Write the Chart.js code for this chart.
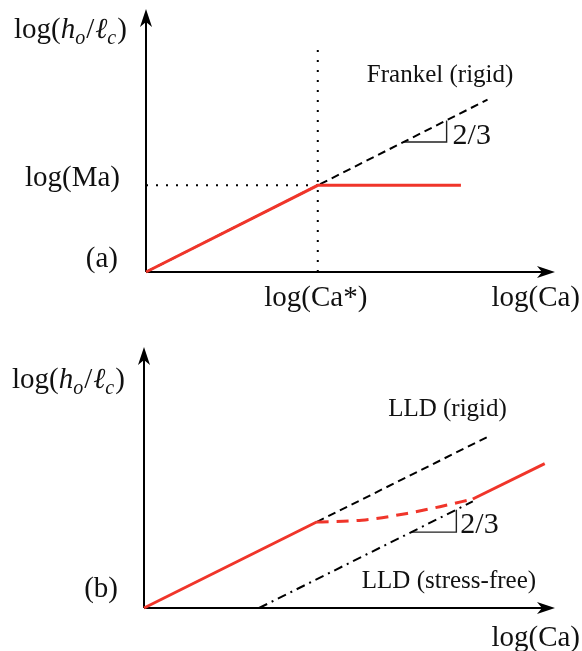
<!DOCTYPE html>
<html>
<head>
<meta charset="utf-8">
<script src="https://cdn.jsdelivr.net/npm/chart.js@4/dist/chart.umd.min.js"></script>
<style>
  html, body { margin: 0; padding: 0; background: #fff; }
  canvas { display: block; }
</style>
</head>
<body>
<canvas id="panelA" width="582" height="325"></canvas>
<canvas id="panelB" width="582" height="326"></canvas>
<script>
/* ---------- DATA (log units) ---------- */
const X_MAX = 10;
const Y_MAX = 8.5;
const caStar = 4.2;
const logMa = 2.8;

// panel (a): Frankel law and the Marangoni-limited film
const frankelX = [0, 8.35];
const frankelY = [0, 5.57];
const filmAX = [0, caStar, 7.7];
const filmAY = [0, logMa, logMa];
const caStarGuideX = [caStar, caStar];
const caStarGuideY = [0, 7.4];
const maGuideX = [0, caStar];
const maGuideY = [logMa, logMa];
const slopeAX = [6.3, 7.35, 7.35];
const slopeAY = [4.2, 4.2, 4.9];

// panel (b): LLD rigid / stress-free asymptotes and the crossover
const lldRigidX = [caStar, 8.37];
const lldRigidY = [logMa, 5.58];
const lldFreeX = [2.8, 8.0];
const lldFreeY = [0, 3.47];
const filmLowX = [0, caStar];
const filmLowY = [0, logMa];
const filmMidX = [caStar, 5.3, 6.4, 7.2, 8.0];
const filmMidY = [logMa, 2.86, 3.08, 3.3, 3.55];
const filmHighX = [8.0, 9.75];
const filmHighY = [3.55, 4.7];
const slopeBX = [6.5, 7.6, 7.6];
const slopeBY = [2.47, 2.47, 3.2];

/* ---------- STYLE ---------- */
const RED = "#f0352a";
const SERIF = '"Liberation Serif", "DejaVu Serif", serif';
const BIG = "29px " + SERIF;
const MID = "25px " + SERIF;
const SLOPE = "30px " + SERIF;

function zip(xs, ys) {
  return xs.map((x, i) => ({ x: x, y: ys[i] }));
}

function line(xs, ys, color, width, dash, extra) {
  return Object.assign({
    data: zip(xs, ys),
    showLine: true,
    borderColor: color,
    borderWidth: width,
    borderDash: dash || [],
    pointRadius: 0,
    fill: false,
    clip: false
  }, extra || {});
}

const yLabelParts = [
  { t: "log(", font: BIG },
  { t: "h", font: "italic " + BIG },
  { t: "o", font: "italic 20px " + SERIF, dy: 6 },
  { t: "/", font: BIG, dx: 1 },
  { t: "\u2113", font: "italic " + BIG, dx: 1 },
  { t: "c", font: "italic 20px " + SERIF, dy: 6 },
  { t: ")", font: BIG, dx: 1 }
];

/* ---------- AXES + TEXT ---------- */
function arrowHead(ctx, x, y, angle) {
  ctx.save();
  ctx.translate(x, y);
  ctx.rotate(angle);
  ctx.beginPath();
  ctx.moveTo(0, 0);
  ctx.lineTo(-18, -6);
  ctx.lineTo(-13, 0);
  ctx.lineTo(-18, 6);
  ctx.closePath();
  ctx.fillStyle = "#000";
  ctx.fill();
  ctx.restore();
}

const sketchPlugin = {
  id: "sketch",
  beforeDatasetsDraw(chart) {
    const ctx = chart.ctx;
    const { left, right, top, bottom } = chart.chartArea;
    ctx.save();
    ctx.strokeStyle = "#000";
    ctx.lineWidth = 2;
    ctx.beginPath();
    ctx.moveTo(left, bottom);
    ctx.lineTo(right - 12, bottom);
    ctx.moveTo(left, bottom);
    ctx.lineTo(left, top + 12);
    ctx.stroke();
    arrowHead(ctx, right, bottom, 0);
    arrowHead(ctx, left, top, -Math.PI / 2);
    ctx.restore();
  },
  afterDatasetsDraw(chart, args, opts) {
    const ctx = chart.ctx;
    const xs = chart.scales.x, ys = chart.scales.y;
    ctx.save();
    ctx.fillStyle = "#111";
    ctx.textBaseline = "alphabetic";
    (opts.labels || []).forEach(l => {
      const px = xs.getPixelForValue(l.at[0]) + (l.dx || 0);
      const py = ys.getPixelForValue(l.at[1]) + (l.dy || 0);
      if (l.parts) {
        let cx = px;
        l.parts.forEach(p => {
          ctx.font = p.font;
          ctx.textAlign = "left";
          cx += p.dx || 0;
          ctx.fillText(p.t, cx, py + (p.dy || 0));
          cx += ctx.measureText(p.t).width;
        });
        return;
      }
      ctx.font = l.font || BIG;
      ctx.textAlign = l.align || "left";
      ctx.fillText(l.text, px, py);
    });
    ctx.restore();
  }
};

function makeChart(id, datasets, pad, labels) {
  return new Chart(document.getElementById(id), {
    type: "scatter",
    data: { datasets: datasets },
    options: {
      responsive: false,
      animation: false,
      devicePixelRatio: 1,
      events: [],
      layout: { padding: pad },
      scales: {
        x: { type: "linear", min: 0, max: X_MAX, display: false },
        y: { type: "linear", min: 0, max: Y_MAX, display: false }
      },
      plugins: {
        legend: { display: false },
        tooltip: { enabled: false },
        sketch: { labels: labels }
      }
    },
    plugins: [sketchPlugin]
  });
}

/* ---------- PANEL (a) ---------- */
makeChart("panelA", [
  line(filmAX, filmAY, RED, 3),
  line(frankelX, frankelY, "#000", 2, [8, 5]),
  line(caStarGuideX, caStarGuideY, "#000", 2, [2, 8]),
  line(maGuideX, maGuideY, "#000", 2, [2, 8]),
  line(slopeAX, slopeAY, "#222", 1.4)
], { left: 146, right: 27, top: 9, bottom: 53 }, [
  { at: [0, Y_MAX], dx: -132, dy: 29, parts: yLabelParts },
  { at: [0, logMa], dx: -26, dy: 1, text: "log(Ma)", align: "right" },
  { at: [0, 0], dx: -28, dy: -5, text: "(a)", align: "right" },
  { at: [caStar, 0], dx: -2, dy: 34, text: "log(Ca*)", align: "center" },
  { at: [X_MAX, 0], dx: 25, dy: 34, text: "log(Ca)", align: "right" },
  { at: [5.4, 6.15], text: "Frankel (rigid)", font: MID },
  { at: [7.35, 4.2], dx: 6, dy: 2, text: "2/3", font: SLOPE }
]);

/* ---------- PANEL (b) ---------- */
makeChart("panelB", [
  line(filmLowX, filmLowY, RED, 3),
  line(filmMidX, filmMidY, RED, 3, [12, 8], { tension: 0.4, cubicInterpolationMode: "monotone" }),
  line(filmHighX, filmHighY, RED, 3),
  line(lldRigidX, lldRigidY, "#000", 2, [8, 5]),
  line(lldFreeX, lldFreeY, "#000", 2, [9, 5, 2, 5]),
  line(slopeBX, slopeBY, "#222", 1.4)
], { left: 144, right: 27, top: 22, bottom: 43 }, [
  { at: [0, Y_MAX], dx: -132, dy: 41, parts: yLabelParts },
  { at: [0, 0], dx: -26, dy: -11, text: "(b)", align: "right" },
  { at: [5.94, 6.25], text: "LLD (rigid)", font: MID },
  { at: [5.3, 0.65], text: "LLD (stress-free)", font: MID },
  { at: [7.6, 2.47], dx: 4, dy: 1, text: "2/3", font: SLOPE },
  { at: [X_MAX, 0], dx: 25, dy: 38, text: "log(Ca)", align: "right" }
]);
</script>
</body>
</html>
